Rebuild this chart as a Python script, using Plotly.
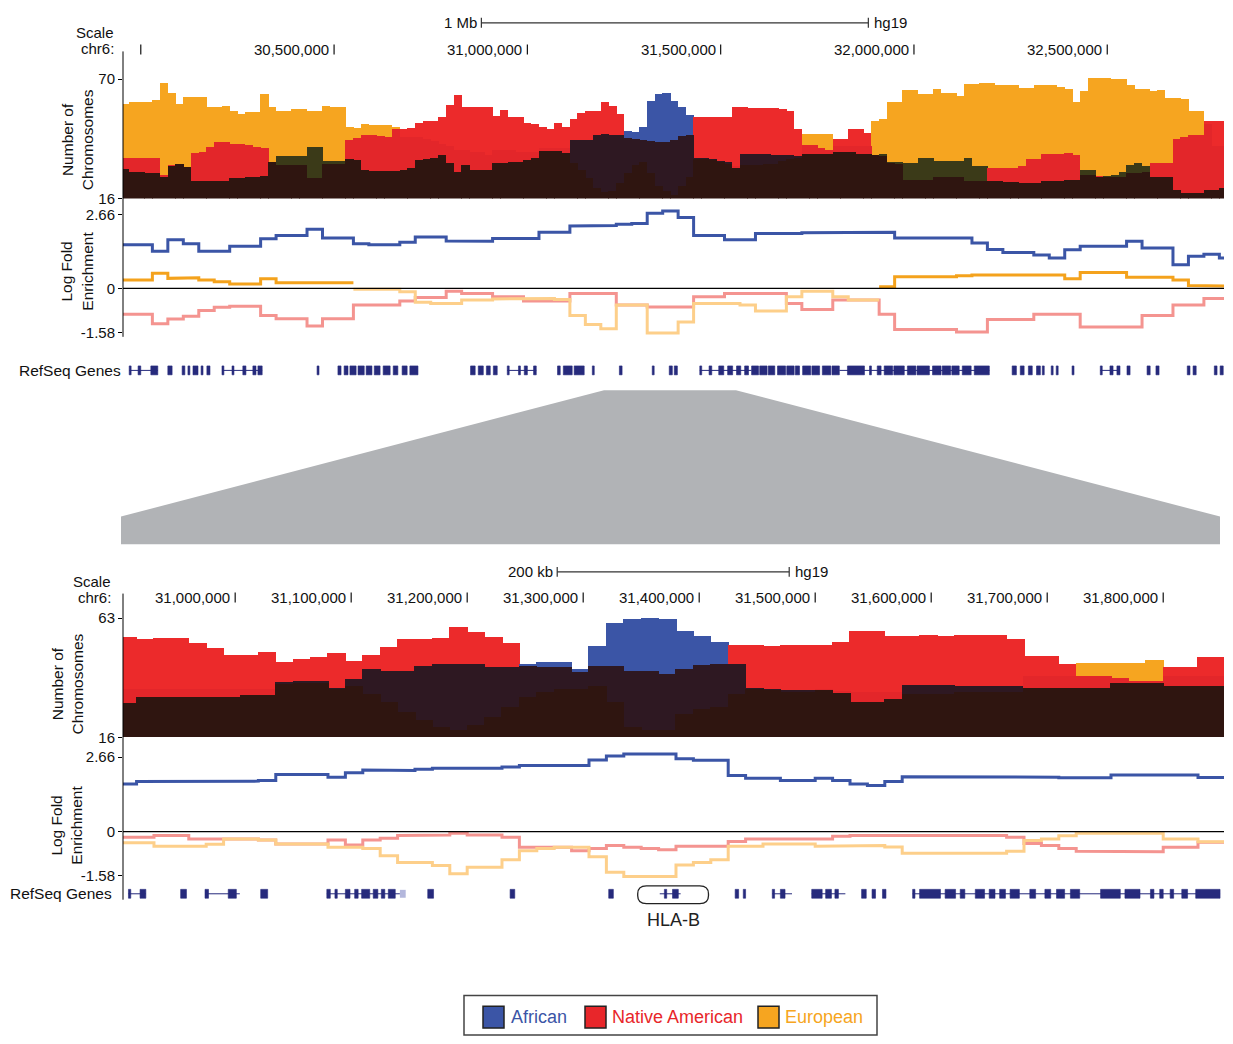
import plotly.graph_objects as go

# ======================= DATA =======================
# ---- top panel (chr6 ~29.95-32.80 Mb): chromosome counts in 20 kb bins ----
TOP_W = 0.02
top_start = [round(29.95 + TOP_W * i, 3) for i in range(143)]
top_af = [29.4,28.3,28.3,27.6,27.6,26.1,31,32,30.6,24,
          24,23.9,24,24.3,25.4,25.4,26,26.1,26.5,32.6,
          35.3,35.3,35.3,35.3,39.5,39.5,33.3,33.3,33,33.9,
          33.6,29.1,28.8,28.6,28.6,28.8,29.1,29.8,33.6,34,
          34.3,35.8,32.1,28.3,31.3,29.1,29.1,29.1,32.1,32.1,
          32.8,32.8,33.6,34.3,37.7,37.7,37.7,36.8,42.8,42.8,
          42.8,44.7,45.5,44.7,44.7,46.6,46.2,48.4,60.3,63.6,
          64,60.3,57.4,54.1,34.3,34.3,34,33,32.5,30,
          36.2,36.2,36.2,36.2,36,36,36,35,36.5,36.5,
          36.5,36.5,37.3,37.3,37.3,36.5,36.5,36,36,32.8,
          32.8,32.1,32.1,34.3,34.3,33.3,33.3,33.3,33.3,34.3,
          30.9,31,23.9,23.9,23.5,23.5,23.2,23.2,23.2,24,
          24,24,24.5,24.5,29.1,29,26,26.3,27,28.3,
          31.3,32.1,31,26,26,26,20,18.5,18.5,18.5,
          20,20.2,21]
top_na = [34.3,34.3,34.3,34.3,34.3,26.5,31.3,32,30.6,36.8,
          37.3,39.5,41.7,41.7,41,41,40.5,39.5,38.8,32.5,
          31.3,31.3,31.3,31.3,25.4,25.4,31.6,31.6,32,42.5,
          43.7,44.7,44.7,44.3,44,47.7,47.7,48.1,50.2,51.4,
          51.4,53.2,58.5,63,57.4,57.4,57.4,57.4,53.6,56.2,
          53.2,53.2,50.2,49.9,48.4,47.7,50.2,48.4,52.1,54.7,
          55.9,55.9,60,58.1,54.4,43.7,43.2,42.5,42.2,41.7,
          41.7,42.8,44.3,44.7,53.2,52.9,52.9,52.9,52.9,57.7,
          57.7,56.9,56.9,56.9,56.9,56.6,55.9,47.7,40.2,40.2,
          39.2,38.3,43.2,43.2,47.7,47.7,45.8,36,35.5,32.1,
          32,24.6,24.6,24.6,24.6,25.8,25.8,25.8,25.8,23.9,
          23.9,23.9,29.8,29.8,29.8,29.8,31,34,34,36.5,
          36.5,36.5,36.8,36,26.9,27,26.3,26,26,26.1,
          27.6,27.6,28,32.1,32.1,32.1,43.2,44,44.7,44.7,
          51.4,51.4,51.4]
top_eu = [59.1,60,59.6,60,60.6,68.5,64,58.8,62.1,62.1,
          62,57.7,57.7,58.1,55.9,54.4,55.4,55.4,63.3,57.4,
          55.9,55.9,56.6,56.6,55.9,55.9,58.1,57.4,57.4,48.7,
          48.1,49.9,49.2,49.2,49.2,48.4,44,44,44,43,
          42,41,40,38,38,37,37,36,38,38,
          38,37,37,37,39,39,39,39,32.1,29.1,
          25.4,20.9,19,19.4,23.1,27.6,31.3,32.8,27.6,21.7,
          19.4,17.9,21.7,26.1,34,34,33.5,32.5,32,31,
          31.3,31.3,31.5,32,32,33,34,34.5,45.5,45.5,
          45.5,45.2,40,40,40,40,40,51.4,52.1,60,
          60,65.1,65.1,63.6,63.6,65.5,64,64,62.6,67.8,
          68,68.5,68.5,67.5,67.5,67.5,66.3,66,67.5,67.5,
          67.5,66.6,65.5,60,64.8,70.7,70.7,70.7,70.4,70,
          67.5,65.5,65.5,64.8,65.1,61.8,61.8,61,55.9,55.9,
          50,40,40]

# ---- top panel log fold enrichment, 40 kb bins ----
LFE_W = 0.04
top_lfe_start = [round(29.95 + LFE_W * i, 3) for i in range(72)]
top_lfe_af = [1.57,1.57,1.33,1.75,1.6,1.33,1.33,1.51,1.51,1.78, 1.9,1.9,2.12,1.81,1.81,1.6,1.57,1.57,1.66,1.85,
              1.85,1.7,1.69,1.69,1.79,1.79,1.79,2.02,2.02,2.24, 2.24,2.26,2.3,2.33,2.7,2.78,2.55,1.9,1.9,1.75,
              1.75,1.97,1.97,1.97,2.0,2.02,2.02,2.02,2.02,2.02, 1.81,1.81,1.81,1.81,1.81,1.63,1.4,1.29,1.29,1.2,
              1.09,1.39,1.51,1.51,1.51,1.69,1.45,1.45,0.85,1.15, 1.23,1.09]
top_lfe_eu = [0.30,0.30,0.54,0.36,0.38,0.30,0.24,0.16,0.16,0.35, 0.2,0.2,0.2,0.2,0.2,-0.03,-0.03,-0.03,-0.12,-0.5,
              -0.54,-0.54,-0.42,-0.42,-0.38,-0.36,-0.36,-0.36,-0.4,-0.97, -1.3,-1.45,-0.6,-0.6,-1.6,-1.6,-1.21,-0.54,-0.54,-0.54,
              -0.6,-0.81,-0.81,-0.3,-0.1,-0.1,-0.3,-0.42,-0.42,0.06, 0.42,0.42,0.42,0.42,0.45,0.48,0.48,0.48,0.48,0.48,
              0.48,0.35,0.57,0.57,0.57,0.4,0.4,0.4,0.3,0.1, 0.08,0.08]
top_lfe_na = [-0.93,-0.93,-1.27,-1.1,-1.0,-0.79,-0.68,-0.64,-0.64,-0.97, -1.09,-1.09,-1.35,-1.09,-1.09,-0.6,-0.6,-0.6,-0.45,-0.33,
              -0.33,-0.1,-0.18,-0.18,-0.3,-0.3,-0.45,-0.45,-0.45,-0.18, -0.18,-0.18,-0.6,-0.6,-0.67,-0.67,-0.67,-0.3,-0.3,-0.18,
              -0.18,-0.18,-0.18,-0.54,-0.76,-0.76,-0.42,-0.42,-0.42,-0.93, -1.48,-1.48,-1.48,-1.48,-1.57,-1.57,-1.12,-1.12,-1.12,-0.93,
              -0.93,-0.93,-1.39,-1.39,-1.39,-1.39,-0.97,-0.97,-0.6,-0.6, -0.36,-0.36]

# ---- bottom panel (chr6 ~30.90-31.85 Mb), 15 kb bins ----
BOT_W = 0.015
bot_start = [round(30.90 + BOT_W * i, 4) for i in range(64)]
bot_af = [29.6,32,32,32,32,32,32,32.5,32.5,37.5, 38,38,35.5,39,43,42,42,44,45,45,
          45,43.5,43.5,45,45.5,45.5,43,52,61,62.4, 62.8,62.5,58,56,53.5,45,35.5,35,34.5,34.5,
          34.5,33.5,30,30,31,36.5,36.5,36.5,36,36, 36,36,35.3,35.3,35.3,35.3,35.3,37.4,37.4,37.4,
          36,36,36,36]
bot_na = [55.5,54.5,55,55,53,51,48.5,48.5,49.5,45.5, 47,47.5,49,46,48.5,51.5,54.5,54.8,55,59.5,
          57.5,55.5,53,44,43.5,43.5,41.5,44,44,42.2, 42,41,43,44.5,44.7,52.5,52.5,51.8,52.5,52.5,
          52.5,53.5,57.8,57.8,56,56,56.3,56,56.3,56.3, 56.3,54.8,48,48,44.7,40.3,40.3,39.5,38,38,
          43.5,43.5,47.5,47.5]
bot_eu = [35,35,35,35,35,35,35,35,35,37, 37.5,37.5,35,36,33,30,26,23,20,19,
          21,24,28,32,34,35,35,36,30,20, 19,19,25,27,28,33,35,34.5,34,34,
          35,34,34,34,34,33,33,33,34,34, 34,34,40.3,40.3,40.3,45.4,45.4,45.4,45.4,46.4,
          40,40,40,40]
bot_lfe_af = [1.7,1.79,1.8,1.8,1.8,1.8,1.8,1.8,1.82,2.04, 2.04,2.04,1.94,2.1,2.2,2.18,2.18,2.22,2.26,2.26,
              2.26,2.26,2.3,2.36,2.36,2.36,2.36,2.55,2.7,2.77, 2.77,2.77,2.6,2.54,2.54,2.0,1.9,1.9,1.82,1.82,
              1.9,1.82,1.7,1.64,1.79,1.96,1.94,1.94,1.94,1.94, 1.94,1.94,1.94,1.94,1.92,1.92,1.92,2.02,2.02,2.02,
              2.02,2.02,1.93,1.93]
bot_lfe_eu = [-0.4,-0.4,-0.52,-0.52,-0.52,-0.45,-0.26,-0.26,-0.3,-0.44, -0.44,-0.44,-0.56,-0.56,-0.6,-0.86,-1.1,-1.1,-1.21,-1.5,
              -1.27,-1.27,-1.0,-0.68,-0.6,-0.56,-0.56,-0.9,-1.45,-1.6, -1.6,-1.6,-1.19,-1.1,-1.0,-0.52,-0.52,-0.44,-0.44,-0.44,
              -0.52,-0.52,-0.52,-0.5,-0.55,-0.77,-0.77,-0.77,-0.77,-0.77, -0.77,-0.7,-0.32,-0.26,-0.15,-0.06,-0.06,-0.06,-0.06,-0.06,
              -0.26,-0.26,-0.36,-0.36]
bot_lfe_na = [-0.2,-0.2,-0.14,-0.14,-0.26,-0.26,-0.26,-0.26,-0.3,-0.44, -0.44,-0.44,-0.3,-0.48,-0.3,-0.24,-0.14,-0.12,-0.12,-0.06,
              -0.12,-0.12,-0.2,-0.56,-0.56,-0.56,-0.68,-0.6,-0.5,-0.56, -0.6,-0.65,-0.52,-0.52,-0.52,-0.35,-0.26,-0.26,-0.26,-0.26,
              -0.26,-0.17,-0.14,-0.14,-0.14,-0.14,-0.14,-0.14,-0.14,-0.14, -0.14,-0.2,-0.42,-0.5,-0.6,-0.7,-0.7,-0.7,-0.72,-0.72,
              -0.56,-0.56,-0.38,-0.38]

# ---- axis ticks / labels ----
top_xticks = [30.0, 30.5, 31.0, 31.5, 32.0, 32.5]
top_xlabels = ["", "30,500,000", "31,000,000", "31,500,000", "32,000,000", "32,500,000"]
bot_xticks = [31.0, 31.1, 31.2, 31.3, 31.4, 31.5, 31.6, 31.7, 31.8]
bot_xlabels = ["31,000,000", "31,100,000", "31,200,000", "31,300,000", "31,400,000",
               "31,500,000", "31,600,000", "31,700,000", "31,800,000"]
top_count_ticks = [16, 70]
bot_count_ticks = [16, 63]
lfe_ticks = [-1.58, 0, 2.66]
top_scale = (30.881, 31.882, "1 Mb")
bot_scale = (31.2776, 31.4776, "200 kb")

# ---- RefSeq genes (Mb) ----
top_gene_lines = [(29.970, 30.044), (30.210, 30.314), (30.948, 31.023), (31.446, 31.580),
                  (31.807, 32.195), (32.482, 32.533)]
top_gene_blocks = [(29.970,29.975),(29.993,30.000),(30.026,30.044),(30.070,30.081),(30.107,30.114),
    (30.122,30.127),(30.135,30.148),(30.156,30.161),(30.171,30.179),(30.210,30.215),(30.236,30.241),
    (30.264,30.272),(30.290,30.298),(30.303,30.314),(30.456,30.461),(30.510,30.518),(30.526,30.536),
    (30.541,30.557),(30.562,30.578),(30.583,30.598),(30.604,30.619),(30.627,30.645),(30.653,30.665),
    (30.676,30.689),(30.696,30.717),(30.853,30.865),(30.873,30.886),(30.894,30.904),(30.912,30.922),
    (30.948,30.953),(30.977,30.982),(30.992,31.000),(31.016,31.023),(31.078,31.085),(31.093,31.116),
    (31.121,31.147),(31.168,31.173),(31.238,31.245),(31.323,31.328),(31.367,31.375),(31.380,31.388),
    (31.446,31.451),(31.470,31.477),(31.495,31.508),(31.518,31.531),(31.541,31.552),(31.562,31.572),
    (31.580,31.598),(31.601,31.620),(31.623,31.640),(31.647,31.668),(31.671,31.690),(31.693,31.704),
    (31.712,31.733),(31.736,31.756),(31.763,31.785),(31.788,31.807),(31.828,31.872),(31.885,31.890),
    (31.905,31.915),(31.923,31.945),(31.948,31.975),(31.983,32.005),(32.008,32.040),(32.048,32.070),
    (32.073,32.095),(32.098,32.117),(32.125,32.148),(32.156,32.195),(32.254,32.265),(32.275,32.285),
    (32.296,32.306),(32.317,32.327),(32.332,32.337),(32.355,32.360),(32.368,32.373),(32.409,32.414),
    (32.482,32.487),(32.507,32.515),(32.525,32.533),(32.551,32.559),(32.603,32.611),(32.626,32.634),
    (32.707,32.714),(32.722,32.730),(32.777,32.784),(32.792,32.800)]
bot_gene_lines = [(30.908, 30.923), (30.974, 31.004), (31.079, 31.142), (31.366, 31.384),
                  (31.463, 31.480), (31.497, 31.526), (31.584, 31.849)]
bot_gene_blocks = [(30.908,30.910),(30.918,30.923),(30.953,30.958),(30.974,30.977),(30.994,31.001),
    (31.022,31.028),(31.079,31.082),(31.086,31.088),(31.095,31.099),(31.103,31.106),(31.109,31.116),
    (31.119,31.123),(31.126,31.129),(31.132,31.138),(31.166,31.171),(31.237,31.241),(31.322,31.326),
    (31.370,31.372),(31.377,31.382),(31.431,31.434),(31.438,31.440),(31.463,31.465),(31.470,31.474),
    (31.497,31.506),(31.509,31.514),(31.517,31.520),(31.540,31.544),(31.549,31.552),(31.558,31.561),
    (31.584,31.586),(31.590,31.608),(31.612,31.621),(31.625,31.629),(31.638,31.646),(31.650,31.655),
    (31.659,31.664),(31.668,31.676),(31.685,31.690),(31.698,31.703),(31.708,31.715),(31.720,31.728),
    (31.746,31.763),(31.767,31.780),(31.789,31.792),(31.797,31.800),(31.806,31.809),(31.816,31.821),
    (31.828,31.849)]
bot_gene_light = [(31.142, 31.147)]
hla_b = (31.347, 31.408, "HLA-B")
legend_names = ["African", "Native American", "European"]

# ======================= STYLE =======================
W, H = 1233, 1044
FONT = "Liberation Sans, Arial, Helvetica, sans-serif"
C_AF, C_NA, C_EU = "#3b55a6", "#ec2a2b", "#f6a520"
TOP_COL = {"AF": C_AF, "NA": C_NA, "EU": C_EU}
PAIR_COL = {frozenset(("NA", "EU")): "#e3262a",
            frozenset(("AF", "EU")): "#3b3a18",
            frozenset(("AF", "NA")): "#2e1822"}
C_ALL = "#2f1510"
EU_NEG, NA_NEG, NA_POS, EU_POS = "#fdcf8a", "#f49490", "#e8262a", "#f4a21c"
GENE = "#262a7c"
BASE = 16

def px(x):
    return x / W

def py(y):
    return 1 - y / H

XD = [px(123), px(1224)]

fig = go.Figure()

def count_bars(starts, w, af, na, eu, xa, ya):
    cx = [s + w / 2 for s in starts]
    tb, th, tc, mb, mh, mc, lh = [], [], [], [], [], [], []
    for a, n, e in zip(af, na, eu):
        (v1, k1), (v2, k2), (v3, k3) = sorted([(a, "AF"), (n, "NA"), (e, "EU")], key=lambda t: -t[0])
        tb.append(v2); th.append(v1 - v2); tc.append(TOP_COL[k1])
        mb.append(v3); mh.append(v2 - v3); mc.append(PAIR_COL[frozenset((k1, k2))])
        lh.append(v3 - BASE)
    for base, hgt, col in ((tb, th, tc), (mb, mh, mc), ([BASE] * len(lh), lh, [C_ALL] * len(lh))):
        fig.add_trace(go.Bar(x=cx, y=hgt, base=base, width=w * 1.06, xaxis=xa, yaxis=ya,
                             marker=dict(color=col, line=dict(width=0)),
                             hoverinfo="skip", showlegend=False))

def lfe_line(starts, w, vals, cond, color, xa, ya):
    xs, ys = [], []
    prev = False
    for s, v in zip(starts, vals):
        if cond(v):
            xs += [s, s + w]; ys += [v, v]
            prev = True
        else:
            if prev:
                xs.append(None); ys.append(None)
            prev = False
    fig.add_trace(go.Scatter(x=xs, y=ys, mode="lines", xaxis=xa, yaxis=ya,
                             line=dict(color=color, width=3), hoverinfo="skip",
                             showlegend=False, connectgaps=False))

pos = lambda v: v >= 0
neg = lambda v: v < 0

count_bars(top_start, TOP_W, top_af, top_na, top_eu, "x", "y")
lfe_line(top_lfe_start, LFE_W, top_lfe_na, neg, NA_NEG, "x", "y2")
lfe_line(top_lfe_start, LFE_W, top_lfe_na, pos, NA_POS, "x", "y2")
lfe_line(top_lfe_start, LFE_W, top_lfe_eu, neg, EU_NEG, "x", "y2")
lfe_line(top_lfe_start, LFE_W, top_lfe_eu, pos, EU_POS, "x", "y2")
lfe_line(top_lfe_start, LFE_W, top_lfe_af, pos, C_AF, "x", "y2")
count_bars(bot_start, BOT_W, bot_af, bot_na, bot_eu, "x2", "y3")
lfe_line(bot_start, BOT_W, bot_lfe_na, neg, NA_NEG, "x2", "y4")
lfe_line(bot_start, BOT_W, bot_lfe_eu, neg, EU_NEG, "x2", "y4")
lfe_line(bot_start, BOT_W, bot_lfe_na, pos, NA_POS, "x2", "y4")
lfe_line(bot_start, BOT_W, bot_lfe_eu, pos, EU_POS, "x2", "y4")
lfe_line(bot_start, BOT_W, bot_lfe_af, pos, C_AF, "x2", "y4")

shapes = []
ann = []

def line_shape(x0, y0, x1, y1, xref="paper", yref="paper", color="black", width=1):
    shapes.append(dict(type="line", x0=x0, y0=y0, x1=x1, y1=y1, xref=xref, yref=yref,
                       line=dict(color=color, width=width), layer="above"))

def text(x, y, s, xref="paper", yref="paper", size=15, color="#111", xanchor="center",
         yanchor="middle", angle=0, xshift=0):
    ann.append(dict(x=x, y=y, text=s, xref=xref, yref=yref, showarrow=False, xanchor=xanchor,
                    yanchor=yanchor, textangle=angle, xshift=xshift,
                    font=dict(family=FONT, size=size, color=color)))

for ya in ("y2", "y4"):
    line_shape(XD[0], 0, XD[1], 0, "paper", ya, "black", 1.2)

line_shape(px(123), py(47), px(123), py(336))
line_shape(px(123), py(596), px(123), py(906))

for xa, ticks, labels, ty in (("x", top_xticks, top_xlabels, 45), ("x2", bot_xticks, bot_xlabels, 600)):
    for t, lab in zip(ticks, labels):
        line_shape(t, py(ty - 5), t, py(ty + 5), xa, "paper", "#111", 1.2)
        if lab:
            text(t, py(ty), lab, xref=xa, xanchor="right", xshift=-3, size=15)

for xa, (s0, s1, lab), sy in (("x", top_scale, 18), ("x2", bot_scale, 574)):
    line_shape(s0, py(sy), s1, py(sy), xa, "paper", "#333", 1.2)
    line_shape(s0, py(sy - 5), s0, py(sy + 5), xa, "paper", "#333", 1.2)
    line_shape(s1, py(sy - 5), s1, py(sy + 5), xa, "paper", "#333", 1.2)
    text(s0, py(sy), lab, xref=xa, xanchor="right", xshift=-2, size=15)
    text(s1, py(sy), "hg19", xref=xa, xanchor="left", xshift=4, size=15)

text(px(116), py(28), "Scale", xanchor="right")
text(px(116), py(44), "chr6:", xanchor="right")
text(px(113), py(584), "Scale", xanchor="right")
text(px(113), py(600), "chr6:", xanchor="right")
text(px(77), py(137), "Number of<br>Chromosomes", angle=-90, size=15.5)
text(px(77), py(270), "Log Fold<br>Enrichment", angle=-90, size=15.5)
text(px(67), py(688), "Number of<br>Chromosomes", angle=-90, size=15.5)
text(px(67), py(831), "Log Fold<br>Enrichment", angle=-90, size=15.5)
text(px(123), py(370), "RefSeq Genes", xanchor="right", size=15.5)
text(px(114), py(900), "RefSeq Genes", xanchor="right", size=15.5)

def genes(xa, lines, blocks, light, cy):
    for s, e in lines:
        line_shape(s, py(cy), e, py(cy), xa, "paper", GENE, 1)
    for s, e in blocks:
        shapes.append(dict(type="rect", x0=s, x1=e, y0=py(cy + 4.5), y1=py(cy - 4.5), xref=xa,
                           yref="paper", fillcolor=GENE, line=dict(width=0.6, color=GENE)))
    for s, e in light:
        shapes.append(dict(type="rect", x0=s, x1=e, y0=py(cy + 4), y1=py(cy - 4), xref=xa,
                           yref="paper", fillcolor="#b3b7dc", line=dict(width=0)))

genes("x", top_gene_lines, top_gene_blocks, [], 370)
genes("x2", bot_gene_lines, bot_gene_blocks, bot_gene_light, 900)

h0, h1, hlab = hla_b
rx, ry = 0.0075, 8 / H
yb, yt = py(910), py(892)
path = (f"M {h0+rx},{yt} L {h1-rx},{yt} Q {h1},{yt} {h1},{yt-ry} L {h1},{yb+ry} "
        f"Q {h1},{yb} {h1-rx},{yb} L {h0+rx},{yb} Q {h0},{yb} {h0},{yb+ry} "
        f"L {h0},{yt-ry} Q {h0},{yt} {h0+rx},{yt} Z")
shapes.append(dict(type="path", path=path, xref="x2", yref="paper",
                   line=dict(color="#222", width=1.3), fillcolor="rgba(0,0,0,0)"))
text((h0 + h1) / 2, py(927), hlab, xref="x2", size=18, color="#222")

pts = [(604, 390), (736, 390), (1220, 518), (1220, 546), (121, 546), (121, 518)]
zp = "M " + " L ".join(f"{px(a)},{py(b)}" for a, b in pts) + " Z"
shapes.append(dict(type="path", path=zp, xref="paper", yref="paper",
                   fillcolor="#b1b3b6", line=dict(width=0), layer="below"))

shapes.append(dict(type="rect", x0=px(464), x1=px(877), y0=py(1043), y1=py(1003), xref="paper",
                   yref="paper", line=dict(color="#444", width=1.5), fillcolor="white"))
for (sx, tx), name, col in zip(((483, 509), (585, 610), (758, 783)), legend_names, (C_AF, "#e8262a", C_EU)):
    shapes.append(dict(type="rect", x0=px(sx), x1=px(sx + 21), y0=py(1036), y1=py(1014),
                       xref="paper", yref="paper", fillcolor=col, line=dict(color="#222", width=1.5)))
    text(px(tx), py(1025), name, xanchor="left", size=18, color=col)

xcommon = dict(showgrid=False, zeroline=False, showticklabels=False, ticks="", showline=False,
               fixedrange=True)
ycommon = dict(showgrid=False, zeroline=False, ticks="outside", ticklen=4, tickwidth=1,
               tickcolor="black", showline=False, fixedrange=True,
               tickfont=dict(family=FONT, size=15, color="#111"))

fig.update_layout(
    width=W, height=H, margin=dict(l=0, r=0, t=0, b=0),
    paper_bgcolor="white", plot_bgcolor="rgba(0,0,0,0)", showlegend=False,
    barmode="overlay", bargap=0,
    xaxis=dict(domain=XD, range=[29.954, 32.802], anchor="y", **xcommon),
    xaxis2=dict(domain=XD, range=[30.9033, 31.8524], anchor="y3", **xcommon),
    yaxis=dict(domain=[py(196), py(70.5)], range=[16, 72], anchor="x",
               tickvals=top_count_ticks, ticktext=[str(t) for t in top_count_ticks], **ycommon),
    yaxis2=dict(domain=[py(334.9), py(206.6)], range=[-1.7, 2.85], anchor="x",
                tickvals=lfe_ticks, ticktext=[f"{t:g}" for t in lfe_ticks], **ycommon),
    yaxis3=dict(domain=[py(742), py(617.1)], range=[16, 64.5], anchor="x2",
                tickvals=bot_count_ticks, ticktext=[str(t) for t in bot_count_ticks], **ycommon),
    yaxis4=dict(domain=[py(885.3), py(756.1)], range=[-1.7, 2.85], anchor="x2",
                tickvals=lfe_ticks, ticktext=[f"{t:g}" for t in lfe_ticks], **ycommon),
    shapes=shapes, annotations=ann,
)

fig.write_html(
    "out.html", config={"displayModeBar": False},
    post_script=("document.documentElement.style.margin='0';document.body.style.margin='0';"
                 "document.documentElement.style.overflow='hidden';document.body.style.overflow='hidden';"
                 "var d=document.getElementById('{plot_id}');d.style.position='absolute';"
                 "d.style.left='0px';d.style.top='0px';"))
